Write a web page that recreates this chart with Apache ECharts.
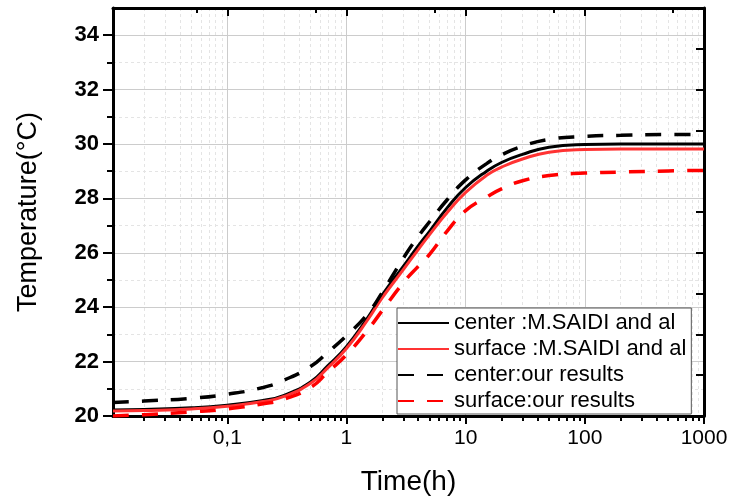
<!DOCTYPE html>
<html>
<head>
<meta charset="utf-8">
<script src="https://cdn.jsdelivr.net/npm/echarts@6/dist/echarts.min.js"></script>
<style>
  html, body { margin: 0; padding: 0; background: #fff; }
  #main { width: 739px; height: 501px; }
</style>
</head>
<body>
<div id="main"></div>
<script>
// time (h) and temperatures (°C)
const time = [0.011, 0.02, 0.05, 0.1, 0.2, 0.3, 0.5, 0.7, 1, 1.5, 2, 3, 4, 5, 7, 10, 15, 20, 30, 50, 100, 200, 500, 1000];
const centerSaidi  = [20.22, 20.24, 20.3, 20.4, 20.57, 20.76, 21.25, 21.85, 22.55, 23.6, 24.45, 25.5, 26.25, 26.8, 27.65, 28.4, 29.0, 29.32, 29.62, 29.88, 29.98, 30.0, 30.0, 30.0];
const surfaceSaidi = [20.18, 20.2, 20.26, 20.36, 20.53, 20.72, 21.2, 21.78, 22.48, 23.52, 24.35, 25.38, 26.12, 26.68, 27.48, 28.22, 28.85, 29.15, 29.45, 29.7, 29.8, 29.82, 29.82, 29.82];
const centerOurs   = [20.5, 20.55, 20.65, 20.8, 21.05, 21.32, 21.82, 22.35, 22.95, 23.75, 24.55, 25.8, 26.6, 27.15, 27.95, 28.68, 29.28, 29.6, 29.92, 30.17, 30.28, 30.32, 30.35, 30.35];
const surfaceOurs  = [20.0, 20.05, 20.15, 20.26, 20.45, 20.62, 21.05, 21.62, 22.25, 23.15, 23.88, 24.9, 25.5, 25.95, 26.8, 27.55, 28.05, 28.35, 28.65, 28.84, 28.93, 28.97, 29.01, 29.03];

const seriesNames = ['center :M.SAIDI and al', 'surface :M.SAIDI and al', 'center:our results', 'surface:our results'];

const xTickValues = [0.1, 1, 10, 100, 1000];
const xTickLabels = ['0,1', '1', '10', '100', '1000'];
const xMinorValues = [];
[0.01, 0.1, 1, 10, 100].forEach(function (d) {
    for (let k = 2; k <= 9; k++) xMinorValues.push(+(d * k).toPrecision(3));
});
const yMinorValues = [21, 23, 25, 27, 29, 31, 33];

const font = 'Arial, "Liberation Sans", sans-serif';

function pairs(arr) {
    return time.map(function (t, i) { return [t, arr[i]]; });
}

function xLabel(v) {
    for (let i = 0; i < xTickValues.length; i++) {
        if (Math.abs(v - xTickValues[i]) / xTickValues[i] < 1e-6) return xTickLabels[i];
    }
    return '';
}

function line(name, data, color, width, dash, z) {
    return {
        name: name,
        type: 'line',
        xAxisIndex: 0,
        yAxisIndex: 0,
        data: pairs(data),
        smooth: 0.5,
        symbol: 'none',
        z: z,
        lineStyle: { color: color, width: width, type: dash },
        itemStyle: { color: color }
    };
}

let myChart;
function draw() {
    let option = {
        animation: false,
        backgroundColor: '#fff',
        grid: { left: 113, right: 35, top: 8, bottom: 81 },
        legend: {
            orient: 'vertical',
            left: 397,
            top: 308,
            data: seriesNames,
            itemWidth: 51,
            itemHeight: 14,
            itemGap: 4,
            padding: [4, 5, 2, 0],
            borderColor: '#555',
            borderWidth: 1,
            borderRadius: 0,
            backgroundColor: '#fff',
            itemStyle: { color: 'transparent', borderWidth: 0, opacity: 0 },
            textStyle: { fontSize: 22, color: '#000', fontFamily: font }
        },
        xAxis: [
            {
                type: 'log',
                min: 0.011,
                max: 1000,
                position: 'bottom',
                name: 'Time(h)',
                nameLocation: 'middle',
                nameGap: 52,
                nameTextStyle: { fontSize: 28, color: '#000', fontFamily: font },
                axisLine: { show: true, onZero: false, lineStyle: { color: '#000', width: 3 } },
                axisTick: { show: true, inside: false, length: 8, lineStyle: { color: '#000', width: 2 } },
                axisLabel: { show: true, margin: 12, fontSize: 21, color: '#000', fontFamily: font, formatter: xLabel, showMinLabel: false },
                splitLine: { show: true, lineStyle: { color: '#cccccc', width: 1 } }
            },
            {
                type: 'log',
                min: 0.011,
                max: 1000,
                position: 'bottom',
                axisLine: { show: false },
                axisTick: { show: true, inside: false, length: 5, customValues: xMinorValues, lineStyle: { color: '#000', width: 2 } },
                axisLabel: { show: false },
                splitLine: { show: true, lineStyle: { color: '#e4e4e4', width: 1, type: [3, 3] } }
            },
            {
                type: 'log',
                min: 0.011,
                max: 1000,
                position: 'top',
                axisLine: { show: true, onZero: false, lineStyle: { color: '#000', width: 3 } },
                axisTick: { show: true, inside: true, length: 8, lineStyle: { color: '#000', width: 2 } },
                minorTick: { show: true, splitNumber: 2, length: 5, lineStyle: { color: '#000', width: 2 } },
                axisLabel: { show: false },
                splitLine: { show: false }
            }
        ],
        yAxis: [
            {
                type: 'value',
                min: 20,
                max: 35,
                interval: 2,
                position: 'left',
                name: 'Temperature(°C)',
                nameLocation: 'middle',
                nameGap: 71,
                nameTextStyle: { fontSize: 27, color: '#000', fontFamily: font },
                axisLine: { show: true, onZero: false, lineStyle: { color: '#000', width: 3 } },
                axisTick: { show: true, inside: false, length: 10, lineStyle: { color: '#000', width: 2 } },
                axisLabel: { show: true, margin: 14, fontSize: 22, fontWeight: 'bold', color: '#000', fontFamily: font, showMaxLabel: false },
                splitLine: { show: true, lineStyle: { color: '#cccccc', width: 1 } }
            },
            {
                type: 'value',
                min: 20,
                max: 35,
                interval: 1.5,
                position: 'right',
                axisLine: { show: true, onZero: false, lineStyle: { color: '#000', width: 3 } },
                axisTick: { show: true, inside: true, length: 8, lineStyle: { color: '#000', width: 2 } },
                axisLabel: { show: false },
                splitLine: { show: false }
            },
            {
                type: 'value',
                min: 20,
                max: 35,
                position: 'left',
                axisLine: { show: false },
                axisTick: { show: true, inside: false, length: 6, customValues: yMinorValues, lineStyle: { color: '#000', width: 2 } },
                axisLabel: { show: false },
                splitLine: { show: true, lineStyle: { color: '#e4e4e4', width: 1, type: [3, 3] } }
            }
        ],
        series: [
            line(seriesNames[0], centerSaidi, '#000000', 3, 'solid', 3),
            line(seriesNames[1], surfaceSaidi, '#ff3333', 3, 'solid', 4),
            line(seriesNames[2], centerOurs, '#000000', 3.5, [16, 13], 5),
            line(seriesNames[3], surfaceOurs, '#ff0000', 3.5, [16, 13], 6)
        ]
    };

    myChart = echarts.init(document.getElementById('main'));
    myChart.setOption(option);

    window.addEventListener('resize', function () {
        myChart.resize();
    }, false);
}

draw();
</script>
</body>
</html>
